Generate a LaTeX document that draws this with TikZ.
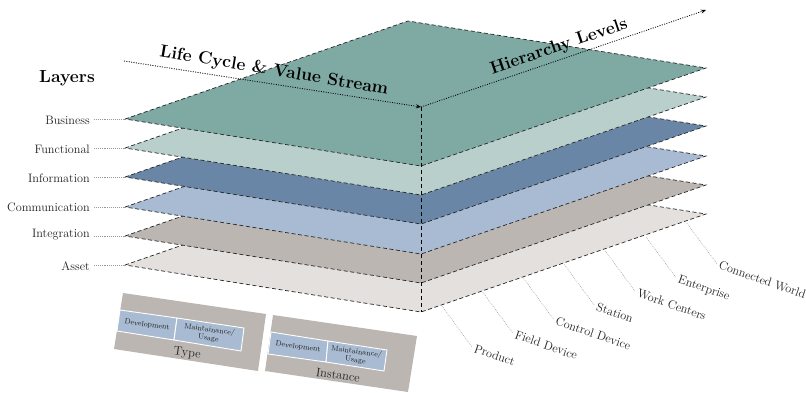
\documentclass[tikz,border=0pt]{standalone}
\usetikzlibrary{arrows.meta}
\definecolor{cBus}{HTML}{7FA9A3}
\definecolor{cFun}{HTML}{B8CFCB}
\definecolor{cInf}{HTML}{6A86A6}
\definecolor{cCom}{HTML}{A8BBD2}
\definecolor{cInt}{HTML}{BCB6B2}
\definecolor{cAss}{HTML}{E3E0DD}
\definecolor{txt}{HTML}{222222}
\tikzset{
  plane/.style={draw=black!85,line width=0.7pt,dash pattern=on 4pt off 2.6pt},
  spine/.style={draw=black,line width=0.9pt,dash pattern=on 4pt off 3pt},
  axisline/.style={draw=black,line width=0.8pt,dash pattern=on 1pt off 1.4pt,-{Stealth[length=5pt,width=4pt]}},
  axistitle/.style={font=\fontsize{17.5}{19}\selectfont\bfseries,text=black,inner sep=0pt},
  layerlabel/.style={font=\fontsize{12.2}{14}\selectfont,text=txt,anchor=east,inner sep=0pt},
  layerlead/.style={draw=gray!80,line width=0.5pt,dash pattern=on 0.8pt off 1.1pt},
  levellabel/.style={font=\fontsize{12.2}{14}\selectfont,text=txt,rotate=-19,anchor=north west,inner sep=0pt},
  levellead/.style={draw=gray!80,line width=0.5pt,dash pattern=on 0.8pt off 1.1pt},
  card/.style={fill=cInt,draw=none},
  cell/.style={fill=cCom,draw=white,line width=0.9pt},
  cellnote/.style={font=\fontsize{7.5}{8.5}\selectfont,text=txt,align=center,inner sep=0pt,rotate=-8},
  cardname/.style={font=\fontsize{12.4}{14}\selectfont,text=txt,inner sep=0pt,rotate=-8}
}
\begin{document}
\begin{tikzpicture}[x=1pt,y=-1pt]
\useasboundingbox (0,0) rectangle (806,392);
% planes, bottom to top
\foreach \n/\col/\d in {6/cAss/0,5/cInt/-29,4/cCom/-58,3/cInf/-88,2/cFun/-117,1/cBus/-146}{
  \coordinate (L\n) at (125,265+\d);
  \coordinate (T\n) at (408,167+\d);
  \coordinate (R\n) at (706,214+\d);
  \coordinate (B\n) at (421,312+\d);
  \path[fill=\col,plane] (L\n) -- (T\n) -- (R\n) -- (B\n) -- cycle;
}
\coordinate (O) at (421,107);
\coordinate (LCstart) at (124,61);
\coordinate (HLend) at (706,10);
\draw[spine] (O) -- (B6);
\draw[axisline] (LCstart) -- (O);
\draw[axisline] (O) -- (HLend);
\node[axistitle,rotate=-9.5] (lc) at (274,71) {Life Cycle \& Value Stream};
\node[axistitle,rotate=18.8] (hl) at (559,47) {Hierarchy Levels};
\node[axistitle] (layers) at (67,78) {Layers};
% layer labels
\node[layerlabel] (l1) at (90,120) {Business};
\node[layerlabel] (l2) at (90,149) {Functional};
\node[layerlabel] (l3) at (90,178) {Information};
\node[layerlabel] (l4) at (90,207) {Communication};
\node[layerlabel] (l5) at (90,235) {Integration};
\node[layerlabel] (l6) at (90,266) {Asset};
\foreach \n in {1,...,6}{
  \draw[layerlead] (l\n.east |- L\n) ++(4,0) -- (L\n);
}
% hierarchy levels
\foreach \n/\t [count=\i from 0] in {a/Product,b/Field Device,c/Control Device,d/Station,e/Work Centers,f/Enterprise,g/Connected World}{
  \coordinate (s\n) at (442+40.8*\i,306-13.8*\i);
  \coordinate (e\n) at (472+40.8*\i,347-13.9*\i);
  \node[levellabel] (t\n) at ([shift={(4,-3)}]e\n) {\t};
  \draw[levellead] (s\n) -- (e\n);
}
% Type card
\path[card] (123,293) -- (266,314) -- (258,371) -- (114,349) -- cycle;
\path[cell] (120,310) -- (177,318) -- (174,340) -- (117,331) -- cycle;
\path[cell] (177,318) -- (244,328) -- (241,351) -- (174,340) -- cycle;
\node[cellnote] (td) at (147,325) {Development};
\node[cellnote] (tm) at (209,334) {Maintainance/\\Usage};
\node[cardname] (tn) at (187,353) {Type};
% Instance card
\path[card] (273,315) -- (417,336) -- (408,392) -- (265,371) -- cycle;
\path[cell] (271,332) -- (328,341) -- (326,362) -- (268,354) -- cycle;
\path[cell] (328,341) -- (387,350) -- (384,371) -- (326,362) -- cycle;
\node[cellnote] (id) at (298,347) {Development};
\node[cellnote] (im) at (356,356) {Maintainance/\\Usage};
\node[cardname] (in) at (338,375) {Instance};
\end{tikzpicture}
\end{document}
